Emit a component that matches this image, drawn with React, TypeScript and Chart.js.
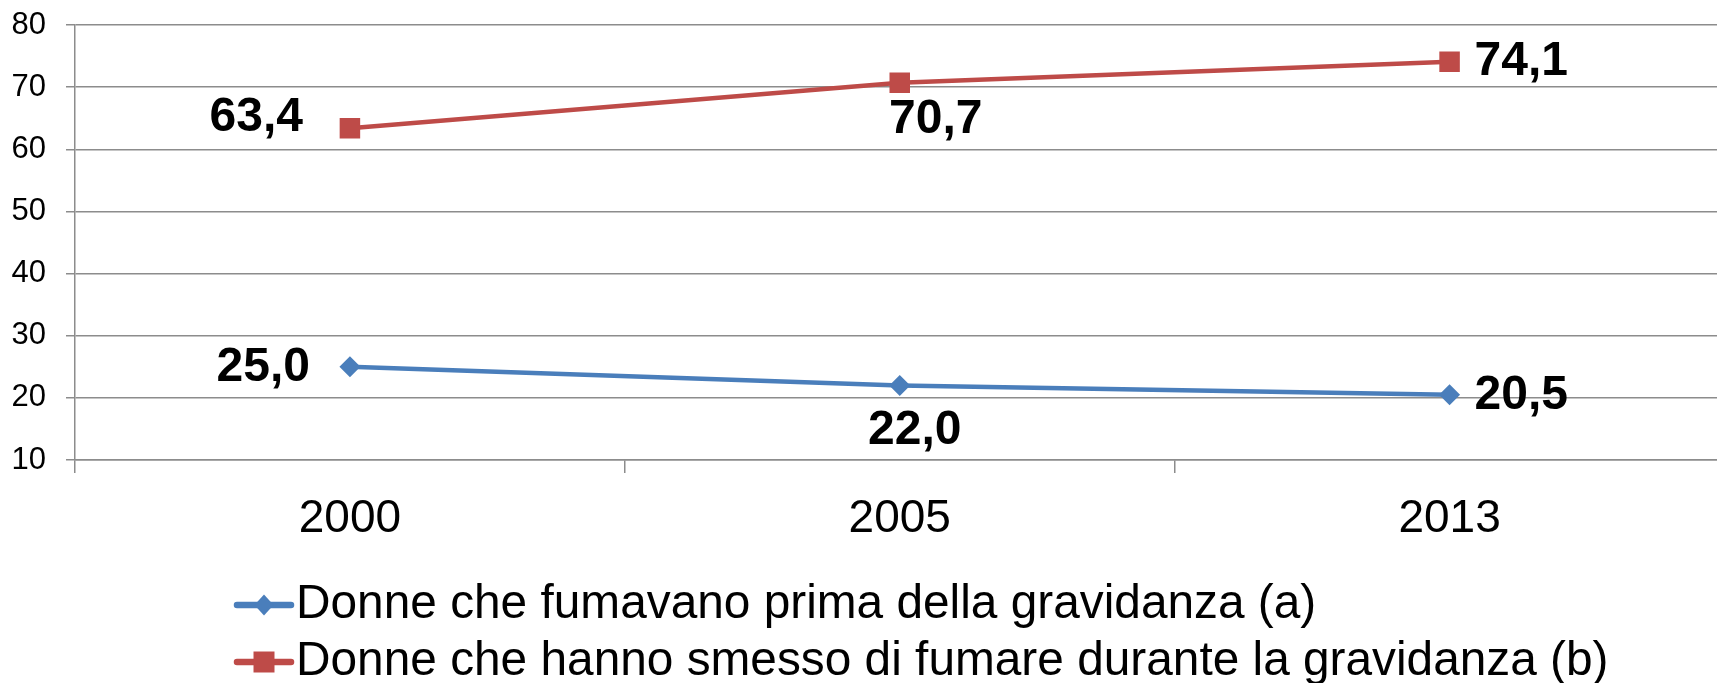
import React, { useEffect, useRef } from 'react';
import { Chart, registerables } from 'chart.js';

Chart.register(...registerables);

// ---- data ----
const categories = ['2000', '2005', '2013'];
const seriesA = [25.0, 22.0, 20.5];
const seriesB = [63.4, 70.7, 74.1];
const valueLabelsA = ['25,0', '22,0', '20,5'];
const valueLabelsB = ['63,4', '70,7', '74,1'];
const seriesNames = [
  'Donne che fumavano prima della gravidanza (a)',
  'Donne che hanno smesso di fumare durante la gravidanza (b)',
];
const yMin = 10;
const yMax = 80;
const yStep = 10;

// ---- styles ----
const FONT = '"Liberation Sans", Arial, Helvetica, sans-serif';
const BLUE = '#4a7ebb';
const RED = '#be4b48';
const GRID = '#8c8c8c';

// label placement relative to each point: [align, dx, dy]
const placeA: [CanvasTextAlign, number, number][] = [
  ['right', -40, 1],
  ['center', 15, 45],
  ['left', 25, 1],
];
const placeB: [CanvasTextAlign, number, number][] = [
  ['right', -47, -10],
  ['center', 36, 37],
  ['left', 25, 0],
];

const dataLabelPlugin = {
  id: 'dataLabels',
  afterDatasetsDraw(chart: any) {
    const ctx = chart.ctx;
    const sets = [
      { labels: valueLabelsA, place: placeA },
      { labels: valueLabelsB, place: placeB },
    ];
    ctx.save();
    ctx.font = `bold 48px ${FONT}`;
    ctx.fillStyle = '#000';
    ctx.textBaseline = 'middle';
    sets.forEach((s, di) => {
      const meta = chart.getDatasetMeta(di);
      meta.data.forEach((pt: any, i: number) => {
        const [align, dx, dy] = s.place[i];
        ctx.textAlign = align;
        ctx.fillText(s.labels[i], pt.x + dx, pt.y + dy);
      });
    });
    ctx.restore();
  },
};

const legendPlugin = {
  id: 'customLegend',
  afterDraw(chart: any) {
    const ctx = chart.ctx;
    const rowsY = [605, 662];
    const x1 = 237;
    const x2 = 291;
    const cx = (x1 + x2) / 2;
    const textX = 296;
    ctx.save();
    chart.data.datasets.forEach((ds: any, i: number) => {
      const y = rowsY[i];
      ctx.strokeStyle = ds.borderColor;
      ctx.lineWidth = 6.5;
      ctx.lineCap = 'round';
      ctx.beginPath();
      ctx.moveTo(x1, y);
      ctx.lineTo(x2, y);
      ctx.stroke();
      ctx.fillStyle = ds.borderColor;
      ctx.beginPath();
      if (ds.pointStyle === 'rectRot') {
        ctx.moveTo(cx - 9.5, y);
        ctx.lineTo(cx, y - 10.5);
        ctx.lineTo(cx + 9.5, y);
        ctx.lineTo(cx, y + 10.5);
        ctx.closePath();
      } else {
        ctx.rect(cx - 10.5, y - 10.5, 21, 21);
      }
      ctx.fill();
      ctx.fillStyle = '#000';
      ctx.font = `47.8px ${FONT}`;
      ctx.textAlign = 'left';
      ctx.textBaseline = 'middle';
      ctx.fillText(ds.label, textX, y);
    });
    ctx.restore();
  },
};

export default function App() {
  const ref = useRef<HTMLCanvasElement | null>(null);

  useEffect(() => {
    if (!ref.current) return;
    Chart.defaults.font.family = FONT;
    const chart = new Chart(ref.current, {
      type: 'line',
      data: {
        labels: categories,
        datasets: [
          {
            label: seriesNames[0],
            data: seriesA,
            borderColor: BLUE,
            backgroundColor: BLUE,
            pointBackgroundColor: BLUE,
            pointBorderColor: BLUE,
            borderWidth: 4.5,
            pointStyle: 'rectRot',
            pointRadius: 10.5,
            pointBorderWidth: 0,
            tension: 0,
          },
          {
            label: seriesNames[1],
            data: seriesB,
            borderColor: RED,
            backgroundColor: RED,
            pointBackgroundColor: RED,
            pointBorderColor: RED,
            borderWidth: 4.5,
            pointStyle: 'rect',
            pointRadius: 14.5,
            pointBorderWidth: 0,
            tension: 0,
          },
        ],
      },
      options: {
        responsive: false,
        animation: false,
        devicePixelRatio: 1,
        layout: { padding: { top: 25, right: 0, bottom: 0, left: 0 } },
        plugins: {
          legend: { display: false },
          tooltip: { enabled: false },
        },
        scales: {
          x: {
            type: 'category',
            offset: true,
            grid: {
              offset: true,
              drawOnChartArea: false,
              tickLength: 13,
              color: GRID,
              lineWidth: 1.5,
            },
            border: { color: GRID, width: 1.5 },
            ticks: {
              font: { family: FONT, size: 46 },
              color: '#000',
              padding: 19,
              maxRotation: 0,
              autoSkip: false,
            },
            afterFit: (s: any) => {
              s.height = 223;
              s.paddingLeft = 0;
              s.paddingRight = 0;
            },
          },
          y: {
            min: yMin,
            max: yMax,
            ticks: {
              stepSize: yStep,
              font: { family: FONT, size: 31 },
              color: '#000',
              padding: 20,
            },
            grid: { color: GRID, lineWidth: 1.5, tickLength: 9 },
            border: { color: GRID, width: 1.5 },
            afterFit: (s: any) => {
              s.width = 75;
              s.paddingTop = 0;
              s.paddingBottom = 0;
            },
          },
        },
      },
      plugins: [dataLabelPlugin, legendPlugin],
    } as any);
    return () => chart.destroy();
  }, []);

  return (
    <div
      style={{
        position: 'absolute',
        left: 0,
        top: 0,
        width: 1717,
        height: 683,
        overflow: 'hidden',
        background: '#fff',
      }}
    >
      <canvas ref={ref} width={1739} height={683} style={{ display: 'block' }} />
    </div>
  );
}
